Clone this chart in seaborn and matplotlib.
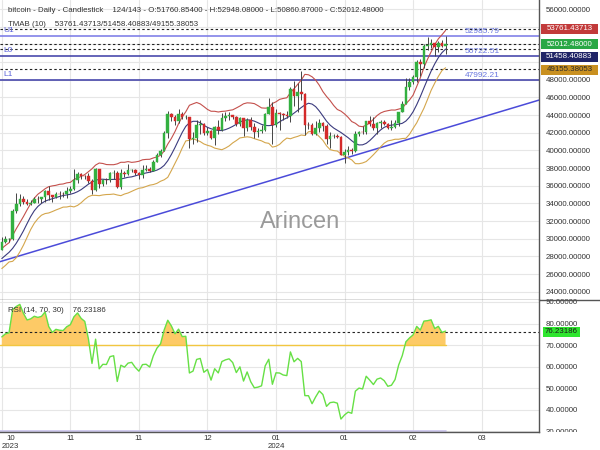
import numpy as np
import pandas as pd
import matplotlib
matplotlib.use("Agg")
import matplotlib.pyplot as plt
from matplotlib.patches import Rectangle
from matplotlib.lines import Line2D
from matplotlib.transforms import Bbox
import seaborn as sns

# ---------------- data ----------------
# warm-up history (before the first visible candle), used only for the indicators
hist_close = [26600, 26570, 26530, 26760, 27210, 27130, 26570, 26580, 26580, 26260, 26300, 26220,
              26370, 26860, 26910, 26970, 27980, 27590, 27430, 27800, 27410, 27950, 27970, 27940,
              27600, 27390, 26870, 26760, 26860, 26860, 27160, 28520, 28420, 28330, 28720]
hist_high = [26850, 26680, 26620, 27410, 27480, 27380, 27160, 26720, 26640, 26720, 26420, 26390,
             26820, 27300, 27230, 27090, 28050, 28580, 27660, 27840, 28120, 28260, 28030, 28100,
             27990, 27730, 27480, 26910, 27080, 26970, 27290, 30000, 28610, 28900, 28920]
hist_low = [26200, 26470, 26410, 26390, 26680, 26870, 26380, 26480, 26500, 26200, 25990, 26090,
            26120, 26340, 26670, 26880, 26950, 27300, 27160, 27230, 27370, 27350, 27870, 27740,
            27300, 27160, 26560, 26620, 26700, 26820, 26850, 27150, 28120, 28180, 28180]

# visible daily candles (124 bars)
open_ = [28720, 29670, 29910, 29990, 33090, 33900, 34500, 34160, 33910, 34090, 34540, 34500,
         34670, 35440, 34940, 34730, 35080, 35050, 35040, 35440, 35660, 36690, 37310, 37140, 37050, 36500,
         35540, 37880, 36150, 36600, 36590, 37390, 37480, 35810, 37430, 37290, 37720, 37800, 37480, 37250,
         37830, 37860,
         37710, 38690, 39480, 39980, 41980, 44080, 43750, 43290, 44170, 43730, 43780, 41240, 41450, 42890,
         43020, 41930, 42240, 41360, 42620, 42270, 43650, 43870, 44000, 43740, 43020, 43610, 42520, 43440,
         42630, 42100, 42160,
         42270, 44170, 44960, 42850, 44180, 44160, 43990, 43940, 46970, 46140, 46630, 46370, 42850, 42840,
         41800, 42510, 43150, 42740, 41260, 41620, 41670, 41550, 39510, 39850, 40080, 39930, 41820, 42120,
         42040, 43290, 42950,
         42580, 43080, 43190, 42990, 42580, 42660, 43080, 44320, 45300, 47150, 47770, 48290, 49960, 49740,
         51830, 51940, 52160, 51660, 52120, 51760.85]
high = [30200, 30290, 30110, 33390, 35150, 35010, 34820, 34460, 34370, 34730, 34850, 34720,
        35560, 35960, 34940, 35250, 35380, 35270, 35890, 35980, 37930, 37510, 37380, 37220, 37400, 36760,
        37970, 37900, 36790, 36830, 37500, 37760, 37650, 37860, 37620, 38420, 37890, 37840, 37560, 38380,
        38390, 38140,
        38960, 39680, 40140, 42170, 44410, 44270, 44040, 44700, 44340, 44040, 43790, 42050, 43390, 43400,
        43080, 42700, 42360, 42710, 43410, 44240, 44290, 44370, 44030, 43940, 43800, 43650, 43680, 43800,
        43110, 42580, 42860,
        44180, 45900, 45500, 44730, 44340, 44230, 44480, 47220, 47890, 47650, 48970, 46490, 43250, 43050,
        43320, 43550, 43190, 42930, 42130, 41830, 41850, 41650, 40130, 40500, 40280, 42200, 42190, 42800,
        43310, 43840, 43720,
        43240, 43420, 43380, 43120, 43490, 43380, 44370, 45600, 48190, 48150, 48550, 50280, 50360, 52040,
        52820, 52570, 52190, 52380, 52490, 52948.08]
low = [28690, 29480, 29640, 29900, 32880, 33720, 33880, 33770, 33870, 34050, 34080, 34080,
       34110, 34360, 34120, 34620, 34540, 34750, 34550, 35130, 35530, 36360, 36770, 36740, 36350, 35100,
       35380, 35720, 35950, 36160, 36390, 36720, 35750, 35670, 36950, 37260, 37600, 37180, 36750, 36890,
       37620, 37520,
       37630, 38650, 39300, 39970, 41450, 43350, 42900, 43080, 43600, 43590, 40230, 40680, 40890, 41850,
       41690, 41790, 41260, 40560, 41860, 42200, 43300, 43430, 43600, 42800, 42770, 41680, 42160, 42300,
       41420, 41520, 41970,
       42190, 44150, 40750, 42630, 42320, 43470, 43620, 43240, 45000, 44330, 45680, 41750, 42470, 41720,
       41730, 42060, 42210, 40680, 40280, 41450, 41450, 39480, 38560, 39500, 39560, 39830, 41680, 41810,
       41800, 42710, 42310,
       41880, 42580, 42890, 42440, 42260, 42580, 42790, 44300, 45260, 46860, 47560, 47710, 48380, 49310,
       51330, 51640, 50670, 51160, 51710, 50860.87]
close = [29670, 29910, 29990, 33090, 33900, 34500, 34160, 33910, 34090, 34540, 34500, 34670,
         35440, 34940, 34730, 35080, 35050, 35040, 35440, 35660, 36690, 37310, 37140, 37050, 36500, 35540,
         37880, 36150, 36600, 36590, 37390, 37480, 35810, 37430, 37290, 37720, 37800, 37480, 37250, 37830,
         37860, 37710,
         38690, 39480, 39980, 41980, 44080, 43750, 43290, 44170, 43730, 43780, 41240, 41450, 42890, 43020,
         41930, 42240, 41360, 42620, 42270, 43650, 43870, 44000, 43740, 43020, 43610, 42520, 43440, 42630,
         42100, 42160, 42270,
         44170, 44960, 42850, 44180, 44160, 43990, 43940, 46970, 46140, 46630, 46370, 42850, 42840, 41800,
         42510, 43150, 42740, 41260, 41620, 41670, 41550, 39510, 39850, 40080, 39930, 41820, 42120, 42040,
         43290, 42950, 42580,
         43080, 43190, 42990, 42580, 42660, 43080, 44320, 45300, 47150, 47770, 48290, 49960, 49740, 51830,
         51940, 52160, 51660, 52120, 51780, 52012.48]

xtick_bars = [0, 19, 38, 57, 76, 95, 114, 133]
xtick_labels = ["10\n2023", "11", "11", "12", "01\n2024", "01", "02", "03"]

price_ticks = [24000, 26000, 28000, 30000, 32000, 34000, 36000, 38000, 40000, 42000, 44000,
               46000, 48000, 50000, 52000, 54000, 56000]
price_ticks_hidden = [50000, 52000, 54000]          # covered by the value boxes
rsi_ticks = [30, 40, 50, 60, 70, 80, 90]

tmab_values = [53761.43713, 51458.40883, 49155.38053]   # upper / middle / lower (last bar)
last_close = 52012.48
rsi_last = 76.23186

level_names = ["U1", "L0", "L1"]
level_values = [52985.79, 50722.51, 47992.21]
level_colors = ["#7676e6", "#3a3aa6", "#3a3aa6"]

trend_bars = [0, 140]
trend_prices = [27460, 44600]

header1 = ("bitcoin - Daily - Candlestick    124/143 - O:51760.85400 - H:52948.08000 - "
           "L:50860.87000 - C:52012.48000")
header2 = "TMAB (10)    53761.43713/51458.40883/49155.38053"
rsi_title = "RSI (14, 70, 30)    76.23186"

# ---------------- indicators ----------------
all_close = pd.Series(hist_close + close, dtype=float)
all_high = pd.Series(hist_high + high, dtype=float)
all_low = pd.Series(hist_low + low, dtype=float)
nh = len(hist_close)

tma = all_close.rolling(5).mean().rolling(6).mean()          # triangular MA (10)
prev_c = all_close.shift(1)
tr = pd.concat([all_high - all_low, (all_high - prev_c).abs(), (all_low - prev_c).abs()], axis=1).max(axis=1)
atr = tr.ewm(alpha=1 / 10, adjust=False).mean()
BAND_MULT = 1.4
upper = (tma + BAND_MULT * atr).iloc[nh:].to_numpy()
lower = (tma - BAND_MULT * atr).iloc[nh:].to_numpy()
mid = tma.iloc[nh:].to_numpy()

delta = all_close.diff()
gain = delta.clip(lower=0).ewm(alpha=1 / 14, adjust=False).mean()
loss = (-delta.clip(upper=0)).ewm(alpha=1 / 14, adjust=False).mean()
rsi = (100 - 100 / (1 + gain / loss)).iloc[nh:].to_numpy()

n = len(close)
bars = np.arange(n)
df = pd.DataFrame({"bar": bars, "open": open_, "high": high, "low": low, "close": close,
                   "upper": upper, "mid": mid, "lower": lower, "rsi": rsi})

# ---------------- style ----------------
sns.set_theme(style="whitegrid")
plt.rcParams['font.family'] = ['Liberation Sans', 'DejaVu Sans']

W, H = 600, 450
fig = plt.figure(figsize=(6, 4.5), dpi=100)
ax = fig.add_axes([0, 1 - 300 / H, 539 / W, 300 / H])
ax2 = fig.add_axes([0, 1 - 432 / H, 539 / W, 132 / H], sharex=ax)

FS = 5.7
TXT = "#333333"
GRID = "#e6e6e6"
for a in (ax, ax2):
    a.set_facecolor("white")
    a.grid(True, color=GRID, lw=0.8)
    for s in ("left", "top"):
        a.spines[s].set_visible(False)
    for s in ("right", "bottom"):
        a.spines[s].set_visible(True)
        a.spines[s].set_color("#555555")
        a.spines[s].set_linewidth(1.0)
    a.yaxis.tick_right()
    a.tick_params(axis="y", length=0, pad=5, labelsize=FS, labelcolor=TXT)

ax.set_xlim(-0.5, 148.9)
ax.set_ylim(23060, 57020)
ax.set_yticks(price_ticks)
ax.set_yticklabels(["" if v in price_ticks_hidden else f"{v:.5f}" for v in price_ticks])
ax.set_xticks(xtick_bars)
ax.tick_params(axis="x", labelbottom=False, length=0)

# separator continues to the right edge
fig.add_artist(Line2D([539 / W, 1], [1 - 300 / H, 1 - 300 / H], color="#555555", lw=1.0,
                      transform=fig.transFigure))

# watermark
fig.text(300 / W, 1 - 222 / H, "Arincen", fontsize=17, color="#9a9a9a", ha="center", va="center", zorder=0)

# trend line
ax.axline((trend_bars[0], trend_prices[0]), (trend_bars[1], trend_prices[1]), color="#4b4bd9", lw=1.1, zorder=2)

# level lines + labels
for name, val, col in zip(level_names, level_values, level_colors):
    ax.axhline(val, color=col, lw=1.1, zorder=2)
    ax.annotate(name, xy=(0.006, val), xycoords=ax.get_yaxis_transform(), xytext=(0, 1.2),
                textcoords="offset points", fontsize=FS + 0.3, color="#5a62d8", va="bottom", ha="left")
    ax.annotate(f"{val:.2f}", xy=(465 / 539, val), xycoords=ax.get_yaxis_transform(), xytext=(0, 0.5),
                textcoords="offset points", fontsize=FS + 0.3, color="#6a78e0", va="bottom", ha="left")

# dashed current-value lines
for val in tmab_values + [last_close]:
    ax.axhline(val, color="#222222", lw=0.8, ls=(0, (2.2, 2.2)), zorder=2)

# bands
sns.lineplot(data=df, x="bar", y="upper", ax=ax, color="#c4504c", lw=0.8, zorder=3)
sns.lineplot(data=df, x="bar", y="mid", ax=ax, color="#3b3b7e", lw=0.8, zorder=3)
sns.lineplot(data=df, x="bar", y="lower", ax=ax, color="#d4a64c", lw=0.8, zorder=3)

# candles
up = df["close"] >= df["open"]
colors = np.where(up, "#33b040", "#d42a2a")
ax.vlines(df["bar"], df["low"], df["high"], color="#444444", lw=0.7, zorder=4)
ax.bar(df["bar"], (df["close"] - df["open"]).abs().clip(lower=25), bottom=df[["open", "close"]].min(axis=1),
       width=0.72, color=colors, edgecolor=colors, lw=0.3, zorder=5)
ax.set_xlabel("")
ax.set_ylabel("")

fig.text(8 / W, 1 - 10 / H, header1, fontsize=FS, color=TXT, va="center", ha="left")
fig.text(8 / W, 1 - 25 / H, header2, fontsize=FS, color=TXT, va="center", ha="left")

# ---------------- RSI panel ----------------
ax2.set_ylim(29.7, 90.9)
ax2.set_yticks(rsi_ticks)
ax2.set_yticklabels([f"{v:.5f}" for v in rsi_ticks])
ax2.fill_between(df["bar"], df["rsi"], 70, where=df["rsi"] >= 70, interpolate=True,
                 color="#fdca66", lw=0, zorder=2)
ax2.plot([bars[0] - 0.5, bars[-1]], [70, 70], color="#f2c640", lw=1.0, zorder=2)
ax2.plot([bars[0] - 0.5, bars[-1]], [30, 30], color="#c9c2ec", lw=1.2, zorder=2)
ax2.axhline(rsi_last, color="#222222", lw=0.8, ls=(0, (2.2, 2.2)), zorder=3)
sns.lineplot(data=df, x="bar", y="rsi", ax=ax2, color="#66e045", lw=1.0, zorder=4)
ax2.set_xlabel("")
ax2.set_ylabel("")
ax2.set_xticks(xtick_bars)
ax2.set_xticklabels(xtick_labels)
ax2.tick_params(axis="x", length=0, pad=2, labelsize=FS, labelcolor=TXT)
lbls = ax2.get_xticklabels()
lbls[0].set_ha("left")
for lb in lbls:
    lb.set_multialignment("center")
ax2.set_xlim(-0.5, 148.9)
# the lowest RSI tick label is cut by the panel's bottom edge
clip = Bbox.from_extents(539, H - 432, W, H)
for lb in ax2.get_yticklabels():
    lb.set_clip_box(clip)
    lb.set_clip_on(True)
fig.text(8 / W, 1 - 311 / H, rsi_title, fontsize=FS, color=TXT, va="center", ha="left")

# ---------------- right-side value boxes ----------------
def ypix(axis, v):
    return axis.transData.transform((0, v))[1]

boxes = [(tmab_values[0], "53761.43713", "#c23a3a", "white"),
         (last_close, "52012.48000", "#28a745", "white"),
         (tmab_values[1], "51458.40883", "#1f2466", "white"),
         (tmab_values[2], "49155.38053", "#c99020", "#2a2a2a")]
prev = None
for val, txt, fc, tc in boxes:
    yp = ypix(ax, val)
    if prev is not None and prev - yp < 12.7:
        yp = prev - 12.7
    prev = yp
    fig.patches.append(Rectangle((541 / W, (yp - 5) / H), 57 / W, 10 / H, transform=fig.transFigure,
                                 fc=fc, ec="none", zorder=10))
    fig.text(569.5 / W, yp / H, txt, fontsize=FS, color=tc, ha="center", va="center", zorder=11)

yp = ypix(ax2, rsi_last)
fig.patches.append(Rectangle((543 / W, (yp - 5) / H), 37 / W, 10 / H, transform=fig.transFigure,
                             fc="#2ee62e", ec="none", zorder=10))
fig.text(561.5 / W, yp / H, f"{rsi_last:.5f}", fontsize=FS, color="#1a1a1a", ha="center", va="center", zorder=11)

fig.savefig("out.png", dpi=100)
